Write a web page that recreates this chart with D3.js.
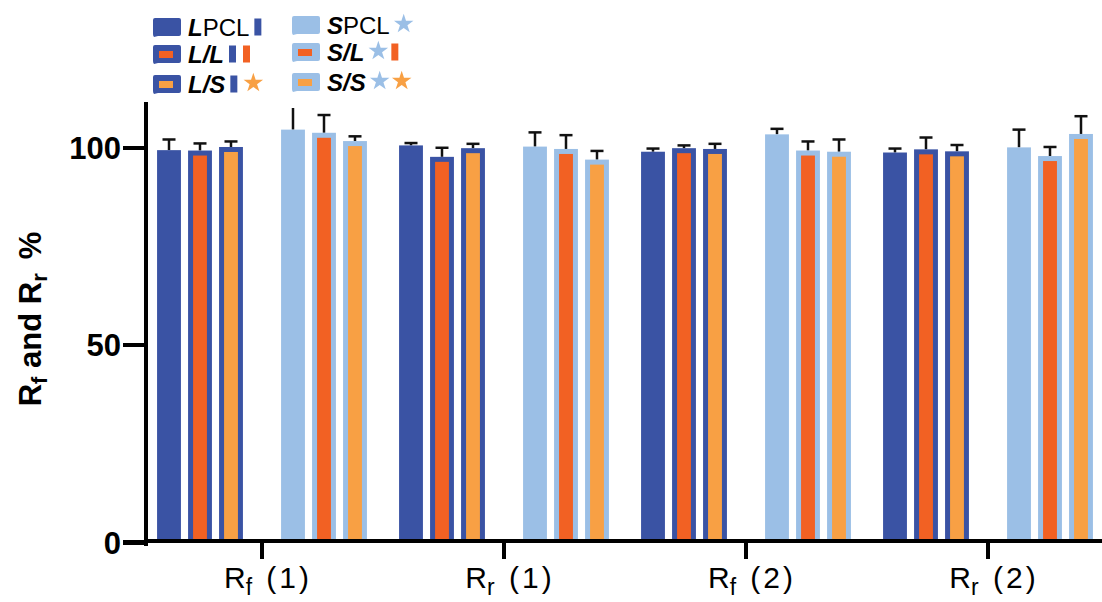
<!DOCTYPE html>
<meta charset="utf-8">
<style>
    body {
        margin: 0;
        background: #fff;
        font-family: Arial, "Liberation Sans", sans-serif;
    }

    .axis path,
    .axis line {
        fill: none;
        stroke: #000;
        stroke-width: 4.5;
        shape-rendering: crispEdges;
    }

    .axis text {
        fill: #000;
    }
</style>

<body>
    <script src="https://cdn.jsdelivr.net/npm/d3@7/dist/d3.min.js"></script>
    <script>

        // first char = R, second = subscript, rest = run number
        var categories = ["Rf (1)", "Rr (1)", "Rf (2)", "Rr (2)"];
        var series = ["LPCL", "L/L", "L/S", "SPCL", "S/L", "S/S"];

        var valLPCL = [99.3, 100.5, 98.9, 98.7];
        var errLPCL = [2.7, 0.6, 0.8, 1.0];
        var valLL = [99.2, 97.6, 99.8, 99.5];
        var errLL = [1.8, 2.3, 0.7, 3.0];
        var valLS = [100.1, 99.8, 99.6, 99.0];
        var errLS = [1.4, 1.1, 1.3, 1.6];
        var valSPCL = [104.5, 100.2, 103.3, 100.0];
        var errSPCL = [7.0, 3.6, 1.4, 4.5];
        var valSL = [103.7, 99.6, 99.2, 97.8];
        var errSL = [4.5, 3.5, 2.3, 2.3];
        var valSS = [101.6, 96.9, 98.9, 103.4];
        var errSS = [1.2, 2.2, 3.1, 4.5];

        var yTicks = [0, 50, 100];

        var darkBlue = "#3a53a4",
            lightBlue = "#9bbfe6",
            orange = "#f26123",
            lightOrange = "#f8a044";

        var values = [valLPCL, valLL, valLS, valSPCL, valSL, valSS];
        var errors = [errLPCL, errLL, errLS, errSPCL, errSL, errSS];
        var outline = [darkBlue, darkBlue, darkBlue, lightBlue, lightBlue, lightBlue];
        var inner = [darkBlue, orange, lightOrange, lightBlue, orange, lightOrange];

        var width = 1102, height = 602;

        var svg = d3.select("body").append("svg")
            .attr("width", width)
            .attr("height", height);

        var y = d3.scaleLinear()
            .domain([0, 111.5])
            .range([542, 102]);

        var x0 = d3.scaleBand()
            .domain(categories)
            .range([141, 1109]);

        // middle slot of each group stays empty
        var slots = ["LPCL", "L/L", "L/S", "gap", "SPCL", "S/L", "S/S"];
        var x1 = d3.scaleBand()
            .domain(slots)
            .range([-108.5, 108.5])
            .paddingInner(0.23)
            .paddingOuter(0.115);

        svg.append("clipPath")
            .attr("id", "plot")
            .append("rect")
            .attr("x", 140)
            .attr("y", y(110))
            .attr("width", 980)
            .attr("height", y(0) - y(110));

        var rows = [];
        categories.forEach(function (c, ci) {
            series.forEach(function (s, si) {
                rows.push({ cat: c, s: s, si: si, v: values[si][ci], e: errors[si][ci] });
            });
        });

        var bars = svg.append("g")
            .attr("clip-path", "url(#plot)")
            .selectAll("g")
            .data(rows)
            .enter().append("g")
            .attr("transform", d => "translate(" + (x0(d.cat) + x0.bandwidth() / 2 + x1(d.s)) + ",0)");

        var bw = x1.bandwidth(), border = 5;

        // error bars first, bar covers the lower half
        bars.append("line")
            .attr("x1", bw / 2).attr("x2", bw / 2)
            .attr("y1", d => y(d.v))
            .attr("y2", d => y(d.v + d.e))
            .attr("stroke", "#111")
            .attr("stroke-width", 2.5);

        bars.append("line")
            .attr("x1", bw / 2 - 6.5).attr("x2", bw / 2 + 6.5)
            .attr("y1", d => y(d.v + d.e))
            .attr("y2", d => y(d.v + d.e))
            .attr("stroke", "#111")
            .attr("stroke-width", 2.5);

        bars.append("rect")
            .attr("x", 0)
            .attr("width", bw)
            .attr("y", d => y(d.v))
            .attr("height", d => y(0) - y(d.v))
            .attr("fill", d => outline[d.si]);

        bars.filter(d => inner[d.si] != outline[d.si])
            .append("rect")
            .attr("x", border)
            .attr("width", bw - 2 * border)
            .attr("y", d => y(d.v) + border)
            .attr("height", d => y(0) - y(d.v) - border)
            .attr("fill", d => inner[d.si]);

        // y axis
        var yAxis = svg.append("g")
            .attr("class", "axis")
            .attr("transform", "translate(146,0)")
            .call(d3.axisLeft(y).tickValues(yTicks).tickSize(23).tickSizeOuter(0).tickPadding(2));

        yAxis.select(".domain").attr("d", "M0," + (y(0) + 4) + "V" + 102);
        yAxis.selectAll("text")
            .style("font-size", "31px")
            .style("font-weight", "bold")
            .attr("dy", "0.36em");

        // x axis
        var xAxis = svg.append("g")
            .attr("class", "axis")
            .attr("transform", "translate(0," + (y(0) - 1) + ")")
            .call(d3.axisBottom(x0).tickSize(18).tickSizeOuter(0).tickPadding(8));

        xAxis.select(".domain").attr("d", "M144,0H1102");
        xAxis.selectAll("text")
            .style("font-size", "30px")
            .attr("dx", 6)
            .text(null)
            .each(function (d) {
                var t = d3.select(this);
                t.append("tspan").text(d[0]);
                t.append("tspan").attr("dy", 7).style("font-size", "23px").text(d[1]);
                t.append("tspan").attr("dy", -7).attr("dx", 3)
                    .style("letter-spacing", "3px").text(d.slice(2));
            });

        // y label
        var ylab = svg.append("text")
            .attr("transform", "translate(41,319) rotate(-90)")
            .attr("text-anchor", "middle")
            .style("font-size", "31px")
            .style("font-weight", "bold");
        ylab.append("tspan").text("R");
        ylab.append("tspan").attr("dy", 6).style("font-size", "22px").text("f");
        ylab.append("tspan").attr("dy", -6).text(" and R");
        ylab.append("tspan").attr("dy", 6).style("font-size", "22px").text("r");
        ylab.append("tspan").attr("dy", -6).attr("dx", 14).text("%");

        // legend
        var legendLayout = [
            { x: 153, cy: 27 }, { x: 153, cy: 54 }, { x: 153, cy: 84 },
            { x: 292, cy: 25 }, { x: 292, cy: 52 }, { x: 292, cy: 82 }
        ];
        var markers = [
            [["bar", darkBlue]],
            [["bar", darkBlue], ["bar", orange]],
            [["bar", darkBlue], ["star", lightOrange]],
            [["star", lightBlue]],
            [["star", lightBlue], ["bar", orange]],
            [["star", lightBlue], ["star", lightOrange]]
        ];
        var star = d3.symbol().type(d3.symbolStar).size(118);

        var legend = svg.selectAll(".legend")
            .data(series)
            .enter().append("g")
            .attr("class", "legend")
            .attr("transform", (d, i) => "translate(" + legendLayout[i].x + "," + legendLayout[i].cy + ")");

        legend.each(function (d, i) {
            var g = d3.select(this);

            g.append("path")
                .attr("d", "M2,-9H26Q28,-9 28,-7V7Q28,9 26,9H5L1,10Q0,9 0,7V-7Q0,-9 2,-9Z")
                .attr("fill", outline[i]);

            if (inner[i] != outline[i]) {
                g.append("rect")
                    .attr("x", 6).attr("y", -3)
                    .attr("width", 14).attr("height", 7)
                    .attr("fill", inner[i]);
            }

            var t = g.append("text")
                .attr("x", 35)
                .attr("y", 8.5)
                .style("font-size", "24px");
            if (d.length > 3) {
                t.append("tspan").style("font-weight", "bold").style("font-style", "italic").text(d[0]);
                t.append("tspan").text(d.slice(1));
            } else {
                t.style("font-weight", "bold").style("font-style", "italic").text(d);
            }
            var cx = 35 + t.node().getComputedTextLength() + 5;
            markers[i].forEach(function (m) {
                if (m[0] == "bar") {
                    g.append("rect")
                        .attr("x", cx).attr("y", -8.5)
                        .attr("width", 7).attr("height", 17)
                        .attr("fill", m[1]);
                    cx += 14;
                } else {
                    g.append("path")
                        .attr("d", star)
                        .attr("transform", "translate(" + (cx + 9) + ",-1)")
                        .attr("fill", m[1]);
                    cx += 22;
                }
            });
        });

    </script>
</body>
